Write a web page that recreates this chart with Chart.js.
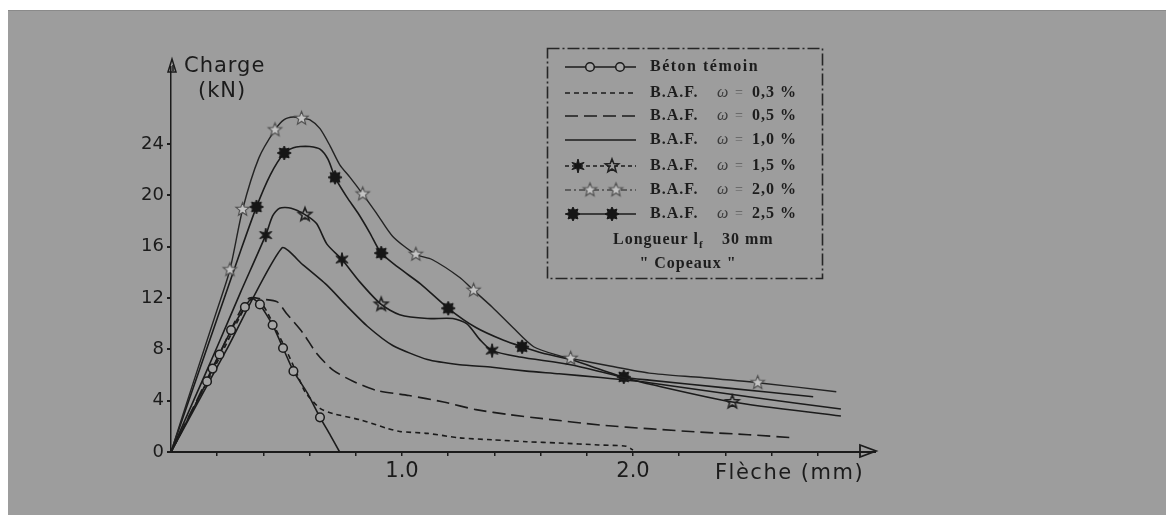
<!DOCTYPE html>
<html>
<head>
<meta charset="utf-8">
<script src="https://cdn.jsdelivr.net/npm/chart.js@4/dist/chart.umd.min.js"></script>
<style>
  html, body { margin: 0; padding: 0; background: #fff; width: 1166px; height: 515px; overflow: hidden; }
  #panel { position: absolute; left: 8px; top: 10px; width: 1158px; height: 505px; background: #9d9d9d; border-top: 1px solid #8a8a8a; }
  #wrap { position: absolute; left: 0; top: 0; width: 1166px; height: 515px; }
</style>
</head>
<body>
<div id="panel"></div>
<div id="wrap"><canvas id="c" width="1166" height="515"></canvas></div>
<script>
// Load / deflection curves, bending tests on fibre-reinforced concrete ("copeaux" fibres, 30 mm)
// x: deflection (mm), y: load (kN)

const temoinX = [0, 0.08, 0.156, 0.18, 0.21, 0.26, 0.32, 0.35, 0.385, 0.44, 0.485, 0.53, 0.59, 0.645, 0.69, 0.73];
const temoinY = [0, 2.8, 5.5, 6.5, 7.6, 9.5, 11.3, 12.0, 11.5, 9.9, 8.1, 6.3, 4.6, 2.7, 1.3, 0];
const temoinMarks = [2, 3, 4, 5, 6, 8, 9, 10, 11, 13];

const baf03X = [0, 0.2, 0.33, 0.36, 0.40, 0.45, 0.50, 0.55, 0.58, 0.645, 0.70, 0.82, 0.935, 0.99, 1.11, 1.25, 1.39, 1.54, 1.68, 1.85, 1.97, 2.0];
const baf03Y = [0, 7.0, 11.6, 12.0, 11.4, 9.7, 7.9, 5.9, 4.7, 3.4, 3.0, 2.5, 1.85, 1.6, 1.45, 1.1, 0.95, 0.8, 0.7, 0.55, 0.45, 0.15];

const baf05X = [0, 0.1, 0.2, 0.3, 0.34, 0.40, 0.46, 0.50, 0.57, 0.63, 0.70, 0.79, 0.89, 1.03, 1.18, 1.32, 1.47, 1.61, 1.86, 2.08, 2.29, 2.5, 2.7];
const baf05Y = [0, 3.6, 7.3, 11.0, 12.0, 11.9, 11.7, 10.8, 9.3, 7.7, 6.4, 5.5, 4.8, 4.4, 3.9, 3.3, 2.9, 2.6, 2.1, 1.8, 1.55, 1.35, 1.1];

const baf10X = [0, 0.24, 0.48, 0.57, 0.675, 0.76, 0.85, 0.96, 1.11, 1.25, 1.39, 1.54, 1.68, 1.86, 2.07, 2.5, 2.9];
const baf10Y = [0, 7.95, 15.9, 14.6, 13.0, 11.4, 9.8, 8.3, 7.2, 6.8, 6.6, 6.3, 6.1, 5.8, 5.4, 4.3, 3.35];

const baf15X = [0, 0.1, 0.2, 0.3, 0.41, 0.44, 0.47, 0.52, 0.58, 0.63, 0.675, 0.74, 0.82, 0.91, 0.99, 1.11, 1.22, 1.28, 1.34, 1.39, 1.51, 1.73, 1.94, 2.07, 2.43, 2.9];
const baf15Y = [0, 4.1, 8.2, 12.4, 16.9, 18.4, 19.0, 19.0, 18.5, 17.8, 16.2, 15.0, 13.2, 11.5, 10.7, 10.4, 10.4, 10.0, 8.7, 7.9, 7.4, 6.8, 5.9, 5.3, 3.9, 2.8];
const baf15Marks = [4, 8, 11, 13, 19, 24];

const baf20X = [0, 0.1, 0.2, 0.255, 0.31, 0.38, 0.45, 0.49, 0.53, 0.565, 0.6, 0.645, 0.69, 0.73, 0.775, 0.83, 0.89, 0.96, 1.06, 1.13, 1.25, 1.31, 1.39, 1.48, 1.57, 1.68, 1.73, 1.9, 2.07, 2.3, 2.54, 2.88];
const baf20Y = [0, 5.6, 11.1, 14.2, 18.9, 22.9, 25.1, 25.9, 26.1, 26.0, 25.9, 25.2, 23.8, 22.4, 21.4, 20.1, 18.6, 16.8, 15.4, 15.0, 13.6, 12.6, 11.3, 9.7, 8.2, 7.5, 7.3, 6.7, 6.15, 5.8, 5.4, 4.7];
const baf20Marks = [3, 4, 6, 9, 15, 18, 21, 26, 30];

const baf25X = [0, 0.1, 0.2, 0.3, 0.37, 0.43, 0.49, 0.53, 0.56, 0.6, 0.645, 0.68, 0.71, 0.76, 0.81, 0.86, 0.91, 0.99, 1.08, 1.2, 1.32, 1.44, 1.52, 1.61, 1.73, 1.96, 2.07, 2.4, 2.78];
const baf25Y = [0, 5.2, 10.4, 15.6, 19.1, 21.6, 23.3, 23.7, 23.8, 23.8, 23.6, 22.8, 21.4, 19.9, 18.6, 17.1, 15.5, 14.3, 13.1, 11.2, 9.7, 8.7, 8.2, 7.7, 7.2, 5.85, 5.6, 5.0, 4.3];
const baf25Marks = [4, 6, 12, 16, 19, 22, 25];

const bafContents = ['0,3', '0,5', '1,0', '1,5', '2,0', '2,5'];
const temoinLabel = 'Béton témoin';
const fibreNote = ['Longueur l', 'f', '30 mm'];
const fibreType = '" Copeaux "';

const yTicks = [0, 4, 8, 12, 16, 20, 24];
const yTickText = ['0', '4', '8', '12', '16', '20', '24'];
const xTicks = [0.2, 0.4, 0.6, 0.8, 1.0, 1.2, 1.4, 1.6, 1.8, 2.0, 2.2, 2.4, 2.6, 2.8];
const xTickText = ['', '', '', '', '1.0', '', '', '', '', '2.0', '', '', '', ''];

const yTitle = ['Charge', '(kN)'];
const xTitle = 'Flèche (mm)';

const INK = '#1b1b1b';

function pts(xs, ys) { return xs.map((x, i) => ({ x: x, y: ys[i] })); }

function starCanvas(spikes, outer, inner, fill, stroke, lw, rot) {
  const s = Math.ceil(outer * 2 + lw * 2 + 4);
  const c = document.createElement('canvas');
  c.width = s; c.height = s;
  const g = c.getContext('2d');
  g.translate(s / 2, s / 2);
  g.beginPath();
  for (let i = 0; i < spikes * 2; i++) {
    const r = i % 2 ? inner : outer;
    const a = Math.PI * i / spikes - Math.PI / 2 + (rot || 0);
    g.lineTo(r * Math.cos(a), r * Math.sin(a));
  }
  g.closePath();
  if (fill) { g.fillStyle = fill; g.fill(); }
  if (stroke) { g.strokeStyle = stroke; g.lineWidth = lw; g.stroke(); }
  return c;
}

const gearMark = starCanvas(8, 7, 4.2, '#161616', '#161616', 1);
const darkStar = starCanvas(6, 7, 2.6, '#161616', '#161616', 1);
const crossStar = starCanvas(5, 7, 3, null, '#202020', 1.6);
const lightStar = starCanvas(5, 7, 3, '#c4c4c4', '#4a4a4a', 1.1);

function markRadius(marks, r) { return ctx => marks.includes(ctx.dataIndex) ? r : 0; }

const datasets = [
  {
    label: temoinLabel, data: pts(temoinX, temoinY),
    borderColor: INK, borderWidth: 1.6, tension: 0.15,
    pointStyle: 'circle', pointRadius: markRadius(temoinMarks, 4.3),
    pointBackgroundColor: '#a6a6a6', pointBorderColor: INK, pointBorderWidth: 1.5
  },
  {
    label: 'B.A.F. ω = ' + bafContents[0] + ' %', data: pts(baf03X, baf03Y),
    borderColor: INK, borderWidth: 1.6, borderDash: [5, 4], tension: 0.25, pointRadius: 0
  },
  {
    label: 'B.A.F. ω = ' + bafContents[1] + ' %', data: pts(baf05X, baf05Y),
    borderColor: INK, borderWidth: 1.6, borderDash: [13, 6], tension: 0.25, pointRadius: 0
  },
  {
    label: 'B.A.F. ω = ' + bafContents[2] + ' %', data: pts(baf10X, baf10Y),
    borderColor: INK, borderWidth: 1.6, tension: 0.2, pointRadius: 0
  },
  {
    label: 'B.A.F. ω = ' + bafContents[3] + ' %', data: pts(baf15X, baf15Y),
    borderColor: INK, borderWidth: 1.6, tension: 0.25,
    pointRadius: markRadius(baf15Marks, 6),
    pointStyle: ctx => (baf15Marks.indexOf(ctx.dataIndex) % 2 === 0) ? darkStar : crossStar
  },
  {
    label: 'B.A.F. ω = ' + bafContents[4] + ' %', data: pts(baf20X, baf20Y),
    borderColor: '#232323', borderWidth: 1.4, tension: 0.25,
    pointRadius: markRadius(baf20Marks, 6), pointStyle: lightStar
  },
  {
    label: 'B.A.F. ω = ' + bafContents[5] + ' %', data: pts(baf25X, baf25Y),
    borderColor: INK, borderWidth: 1.6, tension: 0.25,
    pointRadius: markRadius(baf25Marks, 6), pointStyle: gearMark
  }
];

// Legend sample styles (line dash, colour, marker pair)
const legendSamples = [
  { dash: [], color: INK, marks: [['circle', 590], ['circle', 620]] },
  { dash: [5, 4], color: INK, marks: [] },
  { dash: [13, 6], color: INK, marks: [] },
  { dash: [], color: INK, marks: [] },
  { dash: [4, 3], color: INK, marks: [[darkStar, 578], [crossStar, 612]] },
  { dash: [6, 3, 2, 3], color: '#4a4a4a', marks: [[lightStar, 590], [lightStar, 616]] },
  { dash: [], color: INK, marks: [[gearMark, 573], [gearMark, 612]] }
];

const decor = {
  id: 'decor',
  afterDraw(chart) {
    const ctx = chart.ctx;
    const xs = chart.scales.x, ys = chart.scales.y;
    const x0 = xs.getPixelForValue(0), y0 = ys.getPixelForValue(0);
    const yTop = ys.getPixelForValue(30);
    const xEnd = xs.getPixelForValue(3);
    ctx.save();
    ctx.strokeStyle = INK; ctx.fillStyle = INK;

    // y-axis arrow head
    ctx.lineWidth = 1.5;
    ctx.beginPath();
    ctx.moveTo(x0 + 2, yTop + 4);
    ctx.lineTo(x0 + 2, yTop - 2);
    ctx.stroke();
    ctx.beginPath();
    ctx.moveTo(x0 - 3, yTop + 5);
    ctx.lineTo(x0 + 1, yTop - 8);
    ctx.lineTo(x0 + 5, yTop + 5);
    ctx.closePath();
    ctx.stroke();

    // x-axis arrow head
    ctx.lineWidth = 2;
    ctx.beginPath();
    ctx.moveTo(xEnd, y0); ctx.lineTo(xEnd + 12, y0);
    ctx.stroke();
    ctx.lineWidth = 1.8;
    ctx.beginPath();
    ctx.moveTo(xEnd - 4, y0 - 7);
    ctx.lineTo(xEnd + 12, y0 - 1);
    ctx.lineTo(xEnd - 4, y0 + 5);
    ctx.closePath();
    ctx.stroke();

    // axis titles
    ctx.textBaseline = 'alphabetic';
    ctx.textAlign = 'left';
    ctx.font = '21px "DejaVu Sans"';
    ctx.letterSpacing = '1px';
    ctx.fillText(yTitle[0], 184, 72);
    ctx.fillText(yTitle[1], 198, 97);
    ctx.font = '21px "DejaVu Sans"';
    ctx.letterSpacing = '1.5px';
    ctx.fillText(xTitle, 715, 479);

    // legend frame
    ctx.letterSpacing = '0px';
    ctx.lineWidth = 1.6;
    ctx.strokeStyle = '#262626';
    ctx.setLineDash([12, 3, 2, 3]);
    ctx.strokeRect(547.5, 48.5, 275, 230);
    ctx.setLineDash([]);

    const rowY = [67, 93, 116, 140, 166, 190, 214];
    legendSamples.forEach((s, i) => {
      const y = rowY[i];
      ctx.strokeStyle = s.color;
      ctx.lineWidth = 1.6;
      ctx.setLineDash(s.dash);
      ctx.beginPath();
      ctx.moveTo(565, y); ctx.lineTo(636, y);
      ctx.stroke();
      ctx.setLineDash([]);
      s.marks.forEach(m => {
        if (m[0] === 'circle') {
          ctx.beginPath();
          ctx.arc(m[1], y, 4.3, 0, Math.PI * 2);
          ctx.fillStyle = '#a6a6a6'; ctx.fill();
          ctx.strokeStyle = INK; ctx.lineWidth = 1.5; ctx.stroke();
        } else {
          ctx.drawImage(m[0], m[1] - m[0].width / 2, y - m[0].height / 2);
        }
      });
    });

    ctx.fillStyle = '#1d1d1d';
    ctx.textBaseline = 'middle';
    ctx.font = 'bold 16px "Liberation Serif"';
    ctx.letterSpacing = '1.5px';
    ctx.fillText(temoinLabel, 650, rowY[0]);
    bafContents.forEach((v, i) => {
      const y = rowY[i + 1];
      ctx.font = 'bold 16px "Liberation Serif"';
      ctx.letterSpacing = '1px';
      ctx.fillText('B.A.F.', 650, y);
      ctx.font = 'italic 16px "Liberation Serif"';
      ctx.fillStyle = '#3a3a3a';
      ctx.fillText('ω', 717, y);
      ctx.fillStyle = '#5a5a5a';
      ctx.font = '14px "Liberation Serif"';
      ctx.fillText('=', 735, y);
      ctx.fillStyle = '#1d1d1d';
      ctx.font = 'bold 16px "Liberation Serif"';
      ctx.fillText(v + ' %', 752, y);
    });
    ctx.font = 'bold 16px "Liberation Serif"';
    ctx.letterSpacing = '1px';
    ctx.fillText(fibreNote[0], 613, 240);
    const w = ctx.measureText(fibreNote[0]).width;
    ctx.font = 'bold 11px "Liberation Serif"';
    ctx.fillText(fibreNote[1], 613 + w, 245);
    ctx.font = 'bold 16px "Liberation Serif"';
    ctx.fillText(fibreNote[2], 722, 240);
    ctx.textAlign = 'center';
    ctx.fillText(fibreType, 688, 264);
    ctx.restore();
  }
};

new Chart(document.getElementById('c'), {
  type: 'line',
  data: { datasets: datasets },
  plugins: [decor],
  options: {
    responsive: false,
    animation: false,
    devicePixelRatio: 1,
    events: [],
    layout: { padding: { left: 0, top: 67, right: 302, bottom: 0 } },
    plugins: { legend: { display: false }, tooltip: { enabled: false } },
    elements: { line: { fill: false, capBezierPoints: true } },
    scales: {
      x: {
        type: 'linear', min: 0, max: 3,
        afterFit: s => { s.height = 63; },
        afterBuildTicks: s => { s.ticks = xTicks.map(v => ({ value: v })); },
        border: { display: true, color: INK, width: 2 },
        grid: { display: true, drawOnChartArea: false, drawTicks: true, tickLength: 4, color: INK, lineWidth: 1.5 },
        ticks: {
          color: INK, font: { family: 'DejaVu Sans', size: 21 }, padding: 3,
          maxRotation: 0, autoSkip: false,
          callback: (v, i) => xTickText[i]
        }
      },
      y: {
        type: 'linear', min: 0, max: 30,
        afterFit: s => { s.width = 171; },
        afterBuildTicks: s => { s.ticks = yTicks.map(v => ({ value: v })); },
        border: { display: true, color: INK, width: 1.5, dash: [7, 3, 2, 3] },
        grid: { display: true, drawOnChartArea: false, drawTicks: true, tickLength: 4, color: INK, lineWidth: 2 },
        ticks: {
          color: INK, font: { family: 'DejaVu Sans', size: 18 }, padding: 3,
          autoSkip: false,
          callback: (v, i) => yTickText[i]
        }
      }
    }
  }
});
</script>
</body>
</html>
